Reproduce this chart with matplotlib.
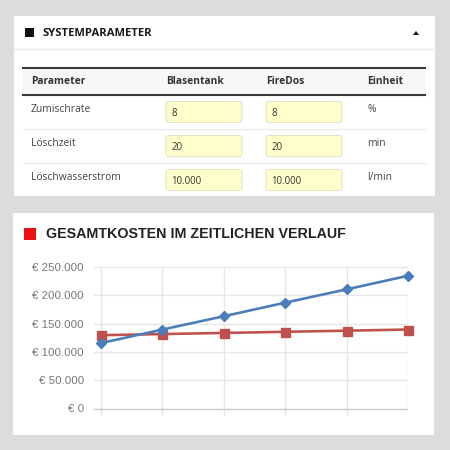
import matplotlib
matplotlib.use("Agg")
import matplotlib.pyplot as plt
from matplotlib.patches import Rectangle, FancyBboxPatch, Polygon
from matplotlib.ticker import FixedLocator

# ---------------- data ----------------
headers = ["Parameter", "Blasentank", "FireDos", "Einheit"]
params = ["Zumischrate", "Löschzeit", "Löschwasserstrom"]
blasentank_vals = ["8", "20", "10.000"]
firedos_vals = ["8", "20", "10.000"]
units = ["%", "min", "l/min"]

costs_blue = [115500, 139500, 163000, 187000, 210500, 234500]
costs_red = [129500, 131500, 133500, 135500, 137500, 139500]
y_ticks = [0, 50000, 100000, 150000, 200000, 250000]
y_tick_labels = ["€ 0", "€ 50.000", "€ 100.000", "€ 150.000", "€ 200.000", "€ 250.000"]

title_top = "SYSTEMPARAMETER"
title_chart = "GESAMTKOSTEN IM ZEITLICHEN VERLAUF"

# ---------------- figure ----------------
W = H = 450
fig = plt.figure(figsize=(4.5, 4.5), dpi=100)
fig.patch.set_facecolor("#dcdcdc")
PT = 72 / 100  # px -> pt

bg = fig.add_axes([0, 0, 1, 1])
bg.set_xlim(0, W)
bg.set_ylim(H, 0)
bg.axis("off")

UI = "Open Sans"

# panel 1
bg.add_patch(Rectangle((14, 16), 421, 180, fc="white", ec="none"))
bg.plot([14, 435], [48.5, 48.5], color="#e8e8e8", lw=1)
bg.add_patch(Rectangle((25, 28), 9, 9, fc="#111111", ec="none"))
bg.text(42, 33, title_top, fontsize=11.2 * PT, fontweight="bold", family=UI,
        color="#1a1a1a", va="center", ha="left")
bg.add_patch(Polygon([[413, 35], [419, 35], [416, 31]], closed=True, fc="#111111", ec="none"))

# table
bg.add_patch(Rectangle((23, 67), 402, 28, fc="#f7f7f7", ec="none"))
bg.plot([23, 425], [67.5, 67.5], color="#3a3a3a", lw=1.5)
bg.plot([23, 425], [95, 95], color="#3a3a3a", lw=1.5)
col_x = [31, 166, 266, 367]
for cx, h in zip(col_x, headers):
    bg.text(cx, 81.5, h, fontsize=10.3 * PT, fontweight="bold", family=UI,
            color="#333333", va="center", ha="left")

row_y = [110, 144, 177]
box_y = [101.5, 135.5, 169.5]
for i, (p, b, f, u) in enumerate(zip(params, blasentank_vals, firedos_vals, units)):
    ty = row_y[i]
    bg.text(31, ty, p, fontsize=10.3 * PT, family=UI, color="#444444", va="center", ha="left")
    for bx, val in ((166, b), (266, f)):
        bg.add_patch(FancyBboxPatch((bx, box_y[i]), 76, 21,
                                    boxstyle="round,pad=0,rounding_size=2.5",
                                    fc="#ffffcc", ec="#e4e4c4", lw=0.8))
        bg.text(bx + 5.5, box_y[i] + 11.5, val, fontsize=9.6 * PT, family=UI,
                color="#333333", va="center", ha="left")
    bg.text(367, ty, u, fontsize=10.3 * PT, family=UI, color="#444444", va="center", ha="left")
    if i < 2:
        sep = box_y[i] + 27.5
        bg.plot([23, 425], [sep, sep], color="#ececec", lw=1)

# panel 2
bg.add_patch(Rectangle((13, 213), 421, 222, fc="white", ec="none"))
bg.add_patch(Rectangle((24, 228), 12, 11.5, fc="#ee1111", ec="none"))
bg.text(46, 234, title_chart, fontsize=14.3 * PT, fontweight="bold", family="Liberation Sans",
        color="#222222", va="center", ha="left")

# ---------------- chart ----------------
left_px, right_px = 94, 408
top_px, bot_px = 267, 416
ax = fig.add_axes([left_px / W, 1 - bot_px / H, (right_px - left_px) / W, (bot_px - top_px) / H])
ax.patch.set_alpha(0)
for s in ax.spines.values():
    s.set_visible(False)

n = len(costs_blue)
xs = list(range(n))
unit_px = (right_px - 101) / (n - 1)
ax.set_xlim(-(101 - left_px) / unit_px, n - 1)
zero_px = 408.5
ax.set_ylim(-(bot_px - zero_px) / (zero_px - top_px) * 250000, 250000)

ax.xaxis.set_major_locator(FixedLocator(xs))
ax.set_xticklabels([])
ax.set_yticks(y_ticks)
ax.set_yticklabels(y_tick_labels, family="Liberation Sans", fontsize=11.5 * PT, color="#777777")
ax.tick_params(length=0, pad=10 * PT)
ax.grid(True, color="#e6e6e6", lw=1)
ax.set_axisbelow(True)
ax.axhline(0, color="#cfcfcf", lw=1, zorder=1)

ax.plot(xs, costs_red, color="#c0504d", lw=2.6 * PT, marker="s", markersize=9 * PT,
        clip_on=False, zorder=3)
ax.plot(xs, costs_blue, color="#4a7ebb", lw=2.6 * PT, marker="D", markersize=7.5 * PT,
        clip_on=False, zorder=4)

fig.savefig("out.png", dpi=100, facecolor=fig.get_facecolor())
